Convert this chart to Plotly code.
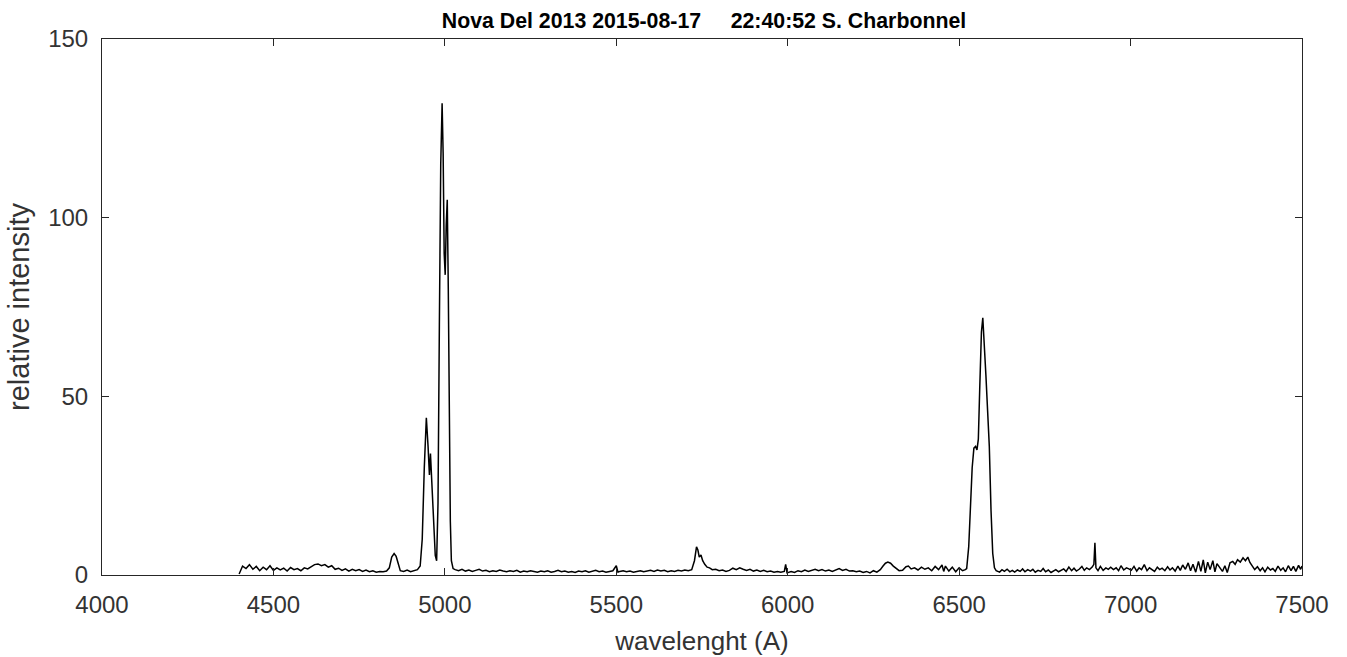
import plotly.graph_objects as go

# Spectrum (wavelength in Angstrom, relative intensity)
wavelength = [
    4400, 4410, 4420, 4430, 4440, 4450, 4460, 4470, 4480, 4490, 4500, 4510, 4520, 4530, 4540,
    4550, 4560, 4570, 4580, 4590, 4600, 4610, 4620, 4630, 4640, 4650, 4660, 4670, 4680, 4690,
    4700, 4710, 4720, 4730, 4740, 4750, 4760, 4770, 4780, 4790, 4800, 4810, 4820, 4830,
    4838, 4845, 4852, 4858, 4864, 4870, 4880, 4890, 4900, 4910, 4920, 4928, 4934, 4940, 4946,
    4951, 4955, 4958, 4962, 4967, 4972, 4976, 4980, 4984, 4988, 4992, 4995, 4998, 5001, 5004,
    5007, 5010, 5013, 5016, 5019, 5024,
    5030, 5040, 5050, 5060, 5070, 5080, 5090, 5100, 5110, 5120, 5130, 5140, 5150, 5160, 5170,
    5180, 5190, 5200, 5210, 5220, 5230, 5240, 5250, 5260, 5270, 5280, 5290, 5300, 5310, 5320,
    5330, 5340, 5350, 5360, 5370, 5380, 5390, 5400, 5410, 5420, 5430, 5440, 5450, 5460, 5470,
    5480, 5490, 5500, 5505, 5510, 5520, 5530, 5540, 5550, 5560, 5570, 5580, 5590, 5600, 5610,
    5620, 5630, 5640, 5650, 5660, 5670, 5680, 5690, 5700, 5710, 5720,
    5728, 5734, 5738, 5742, 5747, 5752, 5758, 5765, 5772, 5780, 5790, 5800, 5810, 5820, 5830,
    5840, 5850, 5860, 5870, 5880, 5890, 5900, 5910, 5920, 5930, 5940, 5950, 5960, 5970, 5980,
    5990, 5994, 5998, 6010, 6020, 6030, 6040, 6050, 6060, 6070, 6080, 6090, 6100, 6110, 6120,
    6130, 6140, 6150, 6160, 6170, 6180, 6190, 6200, 6210, 6220, 6230, 6240, 6250, 6260, 6270,
    6278, 6285, 6292, 6300, 6308, 6316, 6325, 6335, 6345, 6352, 6360, 6370, 6380, 6390, 6400,
    6410, 6420, 6430, 6440, 6450, 6455, 6460, 6470, 6480, 6490, 6500, 6510, 6518,
    6522, 6528, 6533, 6538, 6543, 6548, 6552, 6556, 6560, 6565, 6569, 6573, 6578, 6583, 6588,
    6593, 6598, 6603, 6608,
    6618, 6625, 6632, 6640, 6648, 6655, 6662, 6670, 6678, 6685, 6692, 6700, 6708, 6715, 6722,
    6730, 6738, 6745, 6752, 6760, 6768, 6775, 6782, 6790, 6798, 6805, 6812, 6820, 6828, 6835,
    6842, 6850, 6858, 6865, 6872, 6880, 6888, 6893, 6896, 6899, 6905, 6912, 6920, 6928, 6935,
    6942, 6950, 6958, 6965, 6972, 6980, 6988, 6995, 7002, 7010, 7018, 7025, 7032, 7040, 7048,
    7055, 7062, 7070, 7078, 7085, 7092, 7100, 7108, 7115, 7122, 7130, 7138, 7145, 7152, 7160,
    7168, 7175, 7182, 7190, 7198, 7205, 7212, 7218, 7225, 7232, 7240, 7246, 7252, 7260, 7268,
    7275, 7282, 7290, 7298, 7305, 7312, 7320, 7328, 7335, 7342, 7348, 7355, 7362, 7370, 7378,
    7385, 7392, 7400, 7408, 7415, 7422, 7430, 7438, 7445, 7452, 7460, 7468, 7475, 7482, 7490,
    7496, 7500,
]

intensity = [
    0.3, 2.5, 1.8, 2.9, 1.6, 2.4, 1.2, 2.2, 1.5, 2.6, 1.3, 2.0, 1.4, 1.9, 1.1,
    2.1, 1.5, 1.8, 1.2, 2.0, 1.7, 2.4, 2.9, 3.1, 2.6, 2.9, 2.2, 2.6, 1.6, 1.9,
    1.3, 1.7, 1.1, 1.6, 1.2, 1.5, 1.0, 1.4, 0.9, 1.2, 0.8, 1.0, 0.9, 1.1,
    2.0, 5.0, 6.0, 5.2, 3.0, 1.2, 1.0, 1.4, 0.9, 1.2, 1.5, 2.5, 10, 30, 44,
    36, 28, 34, 25, 12, 5.5, 4, 20, 70, 115, 132, 118, 90, 84, 98,
    105, 80, 45, 15, 4, 1.8,
    1.5, 1.2, 1.6, 1.1, 1.4, 1.0, 1.3, 1.6, 1.1, 1.3, 0.9, 1.2, 1.0, 1.4, 1.1,
    0.9, 1.2, 1.0, 1.3, 0.8, 1.1, 0.9, 1.2, 1.0, 0.8, 1.1, 0.9, 1.2, 0.8, 1.0,
    1.3, 0.9, 1.1, 0.8, 1.0, 0.7, 1.1, 0.9, 1.2, 0.8, 1.0, 1.3, 0.9, 1.1, 0.8,
    1.0, 1.2, 2.6, 0.8, 1.0, 1.2, 0.9, 1.1, 0.8, 1.0, 1.2, 0.9, 1.1, 1.3, 1.0,
    1.4, 1.1, 1.3, 0.9, 1.2, 1.0, 1.3, 1.1, 1.4, 1.2, 1.5,
    4.0, 7.9, 7.0, 5.0, 5.6, 4.0, 3.0, 2.2, 2.0, 1.5, 1.6, 1.2, 1.4, 1.0, 1.3,
    1.9, 1.5, 2.0, 1.6, 1.3, 1.6, 1.1, 1.4, 1.0, 1.3, 0.9, 1.1, 0.8, 1.0, 0.8,
    1.0, 3.0, 0.6, 1.0, 0.7, 1.2, 0.9, 1.4, 1.0, 1.3, 1.6, 1.2, 1.5, 1.1, 1.4,
    1.0, 1.5, 1.8, 1.3, 1.6, 1.1, 1.2, 0.9, 1.1, 0.7, 1.0, 0.6, 1.2, 0.8, 1.5,
    2.5, 3.3, 3.6, 3.3, 2.5, 1.8, 1.2, 1.3, 2.3, 2.5, 1.7, 2.0, 1.4, 2.2, 1.6,
    2.0, 1.2, 2.4, 1.5, 2.8, 1.0, 2.5, 1.1, 2.2, 0.9, 2.0, 1.2, 1.5,
    1.8, 8, 19, 30, 35.5, 36, 35, 38, 52, 68, 72, 66, 56, 46, 36,
    18, 6, 2.0, 1.2,
    0.8, 1.5, 1.0, 1.6, 0.9, 1.3, 0.8, 1.4, 1.0, 1.7, 0.9, 1.5, 1.1, 1.6, 0.8,
    1.3, 1.0, 1.8, 0.9, 1.4, 0.7, 1.2, 1.5, 0.9, 1.3, 1.7, 1.0, 2.2, 1.2, 1.9,
    1.1, 1.6, 2.4, 1.3, 2.0, 1.5, 2.2, 3.0, 9.0, 2.0, 1.2, 2.4, 1.3, 2.0, 1.6,
    2.2, 1.5, 2.0, 1.2, 2.6, 1.4, 2.0, 1.7, 1.3, 2.4, 1.1, 2.0, 1.5, 2.9, 1.2,
    2.0, 1.6, 1.0, 2.2, 1.5, 1.9, 1.2, 2.3, 1.4, 2.0, 1.1, 2.5, 1.3, 2.8, 1.6,
    3.4, 1.2, 3.0, 0.8, 3.8, 1.0, 4.2, 0.6, 3.6, 1.5, 4.0, 0.9, 3.2, 2.0, 1.0,
    2.6, 0.7, 3.4, 3.8, 3.0, 4.3, 3.6, 4.8, 4.0, 5.0, 3.5, 2.6, 1.5, 2.3, 1.2,
    2.0, 0.9, 2.2, 1.4, 1.8, 1.0, 2.5, 1.3, 2.0, 0.9, 2.6, 1.2, 2.4, 1.0, 2.7,
    1.6, 2.5,
]

x_ticks = [4000, 4500, 5000, 5500, 6000, 6500, 7000, 7500]
y_ticks = [0, 50, 100, 150]

title_text = "Nova Del 2013 2015-08-17\u00a0\u00a0\u00a0\u00a0\u00a022:40:52 S. Charbonnel"

FONT = "Liberation Sans, Arial, sans-serif"
GRAY = "#333333"

fig = go.Figure()
fig.add_trace(go.Scatter(
    x=wavelength, y=intensity, mode="lines",
    line=dict(color="black", width=1.5),
    showlegend=False, hoverinfo="skip",
))

axis_common = dict(
    showgrid=False, zeroline=False, automargin=False,
    showline=True, linecolor="#262626", linewidth=1, mirror="ticks",
    ticks="inside", ticklen=7, tickwidth=1, tickcolor="#262626",
    tickfont=dict(family=FONT, size=24, color=GRAY),
)

fig.update_layout(
    width=1347, height=657,
    margin=dict(l=102, r=45, t=39, b=82),
    paper_bgcolor="white", plot_bgcolor="white",
    title=dict(
        text="<b>" + title_text + "</b>",
        x=704 / 1347, xanchor="center",
        y=1 - 21 / 657, yanchor="middle",
        font=dict(family=FONT, size=21.3, color="black"),
    ),
    xaxis=dict(
        range=[4000, 7500], tickvals=x_ticks, ticktext=[str(v) for v in x_ticks],
        ticklabelstandoff=8,
        title=dict(text="wavelenght (A)", standoff=15,
                   font=dict(family=FONT, size=26, color=GRAY)),
        **axis_common,
    ),
    yaxis=dict(
        range=[0, 150], tickvals=y_ticks, ticktext=[str(v) for v in y_ticks],
        ticklabelstandoff=8,
        title=dict(text="relative intensity", standoff=10,
                   font=dict(family=FONT, size=29, color=GRAY)),
        **axis_common,
    ),
)

fig.write_html("out.html")
